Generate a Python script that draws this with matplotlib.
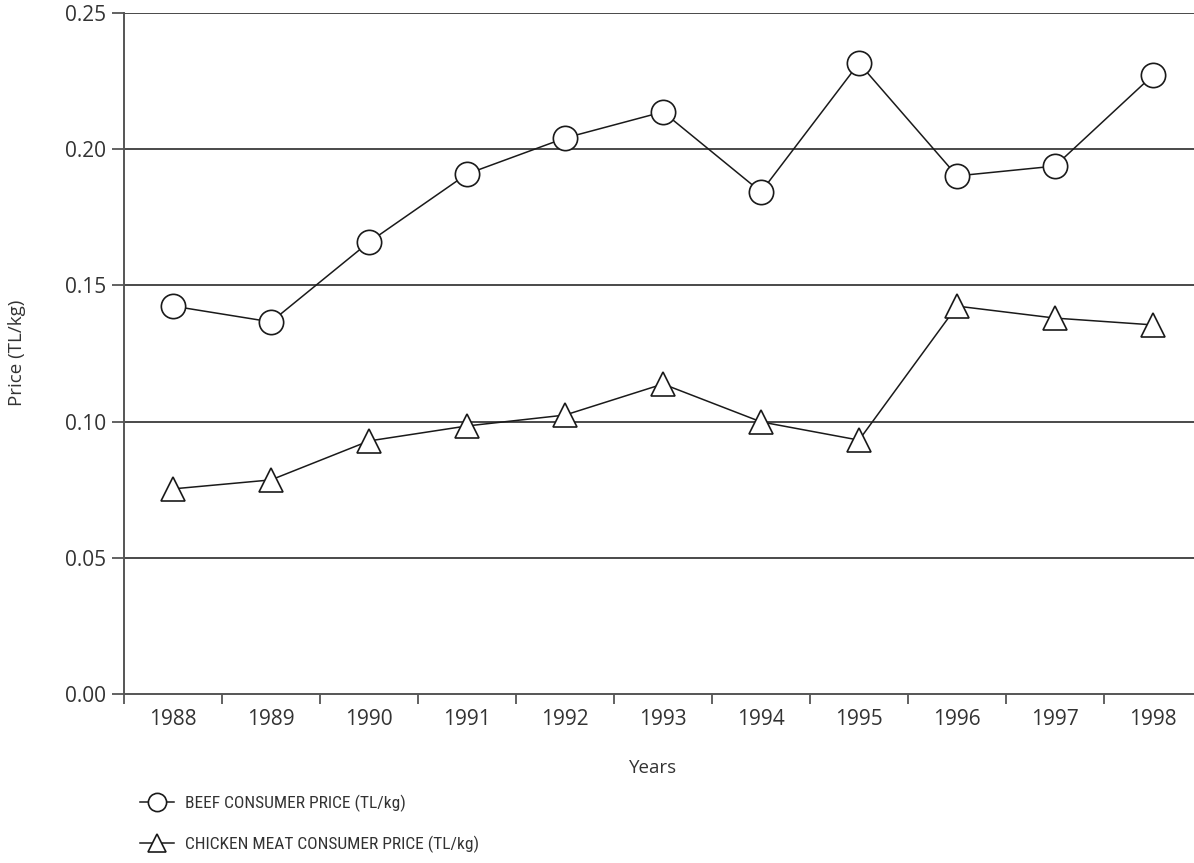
import matplotlib

matplotlib.use("Agg")
import matplotlib.pyplot as plt
import numpy as np

YEARS = ["1988", "1989", "1990", "1991", "1992", "1993", "1994", "1995", "1996", "1997", "1998"]
BEEF_PRICE = [0.1424, 0.1366, 0.1659, 0.1909, 0.2041, 0.2137, 0.1843, 0.2316, 0.1902, 0.1938, 0.2272]
CHICKEN_PRICE = [0.0753, 0.0786, 0.0929, 0.0984, 0.1024, 0.1138, 0.0999, 0.0932, 0.1424, 0.1380, 0.1355]
Y_TICKS = [0.00, 0.05, 0.10, 0.15, 0.20, 0.25]

plt.rcParams["font.family"] = ["Open Sans", "DejaVu Sans"]
TEXT_COLOR = "#333333"
GRID_COLOR = "#3a3a3a"
SPINE_COLOR = "#555555"

fig = plt.figure(figsize=(11.94, 8.63), dpi=100)
# the category axis runs a little past the right edge of the picture, as in the source
ax = fig.add_axes([124 / 1194, 169 / 863, 1078 / 1194, 681 / 863])

x = np.arange(len(YEARS))
ax.plot(x, BEEF_PRICE, color="#1a1a1a", lw=1.1, marker="o", ms=17.5, mfc="white",
        mec="#1a1a1a", mew=1.2, label="BEEF CONSUMER PRICE (TL/kg)", zorder=3)
ax.plot(x, CHICKEN_PRICE, color="#1a1a1a", lw=1.1, marker="^", ms=17.5, mfc="white",
        mec="#1a1a1a", mew=1.2, label="CHICKEN MEAT CONSUMER PRICE (TL/kg)", zorder=3)

for yv in Y_TICKS[1:]:
    ax.axhline(yv, color=GRID_COLOR, lw=1.3, zorder=1)

ax.set_xlim(-0.5, len(YEARS) - 0.5)
ax.set_ylim(0, 0.25)
ax.set_yticks(Y_TICKS)
ax.set_yticklabels([f"{v:.2f}" for v in Y_TICKS])

# tick marks sit on the category boundaries, labels in the middle
ax.set_xticks(np.arange(-0.5, len(YEARS) - 0.5, 1.0))
ax.set_xticklabels([])
ax.set_xticks(x, minor=True)
ax.set_xticklabels(YEARS, minor=True)
ax.tick_params(axis="x", which="major", length=7, width=1.3, color=SPINE_COLOR, direction="out")
ax.tick_params(axis="x", which="minor", length=0, pad=11, labelsize=15, labelcolor=TEXT_COLOR)
ax.tick_params(axis="y", length=9, width=1.3, color=SPINE_COLOR, pad=4, labelsize=15, labelcolor=TEXT_COLOR)

for side in ("top", "right"):
    ax.spines[side].set_visible(False)
for side in ("left", "bottom"):
    ax.spines[side].set_color(SPINE_COLOR)
    ax.spines[side].set_linewidth(1.4)

fig.text(17 / 1194, 1 - 353 / 863, "Price (TL/kg)", rotation=90, ha="center", va="center",
         fontsize=13.5, color=TEXT_COLOR)
fig.text(653 / 1194, 1 - 768 / 863, "Years", ha="center", va="center", fontsize=13.5, color=TEXT_COLOR)

leg = fig.legend(loc="upper left", bbox_to_anchor=(124 / 1194, 1 - 779 / 863), frameon=False,
                 markerscale=0.75, handlelength=2.0, handletextpad=0.6, labelspacing=1.35,
                 prop={"family": ["Roboto Condensed", "DejaVu Sans"], "stretch": "condensed", "size": 12.5})
for t in leg.get_texts():
    t.set_color(TEXT_COLOR)

fig.savefig("out.png", dpi=100)
